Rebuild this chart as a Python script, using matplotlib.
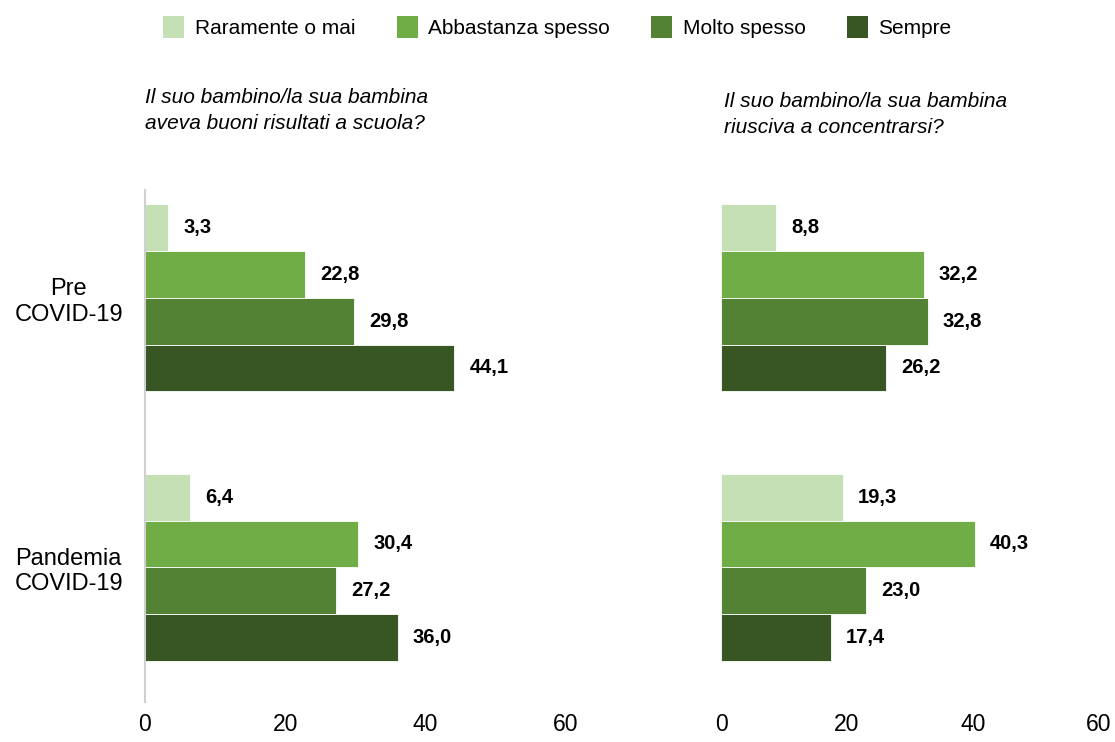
import matplotlib.pyplot as plt
from matplotlib.patches import Patch
import numpy as np

plt.rcParams['font.family'] = ['Liberation Sans', 'DejaVu Sans']

periods = ['Pre\nCOVID-19', 'Pandemia\nCOVID-19']
answers = ['Raramente o mai', 'Abbastanza spesso', 'Molto spesso', 'Sempre']
colors = ['#C5E0B4', '#70AD47', '#548235', '#375623']

# values per answer: [Pre, Pandemia]
scuola = [[3.3, 6.4], [22.8, 30.4], [29.8, 27.2], [44.1, 36.0]]
concentrarsi = [[8.8, 19.3], [32.2, 40.3], [32.8, 23.0], [26.2, 17.4]]

q_scuola = 'Il suo bambino/la sua bambina\naveva buoni risultati a scuola?'
q_conc = 'Il suo bambino/la sua bambina\nriusciva a concentrarsi?'

W, H = 1115, 742
fig = plt.figure(figsize=(W / 100, H / 100), dpi=100)

ax1 = fig.add_axes([145 / W, 40 / H, (566 - 145) / W, (702 - 190) / H])
ax2 = fig.add_axes([721 / W, 40 / H, (1099 - 721) / W, (702 - 190) / H])

bar_h = 0.1734
y = np.arange(len(periods))


def draw(ax, data, show_cats):
    for i, vals in enumerate(data):
        pos = y + (i - 1.5) * bar_h
        bars = ax.barh(pos, vals, height=bar_h, color=colors[i],
                       edgecolor='white', linewidth=0.6)
        for b, v in zip(bars, vals):
            ax.annotate(f'{v:.1f}'.replace('.', ','),
                        (b.get_width(), b.get_y() + b.get_height() / 2),
                        xytext=(15, 0), textcoords='offset pixels',
                        ha='left', va='center', fontsize=14.5, fontweight='bold')
    ax.set_xlim(0, 60)
    ax.set_ylim(1.5, -0.4)
    ax.set_xticks([0, 20, 40, 60])
    ax.tick_params(axis='x', length=0, pad=8, labelsize=16.5)
    for s in ['top', 'right', 'bottom']:
        ax.spines[s].set_visible(False)
    if show_cats:
        ax.spines['left'].set_color('#D0D0D0')
        ax.spines['left'].set_linewidth(1.5)
        ax.set_yticks(y)
        ax.set_yticklabels(periods, fontsize=17, ha='center')
        ax.tick_params(axis='y', length=0, pad=55)
    else:
        ax.spines['left'].set_visible(False)
        ax.set_yticks([])


draw(ax1, scuola, True)
draw(ax2, concentrarsi, False)

fig.text(145 / W, 1 - 88 / H, q_scuola, fontsize=15, style='italic',
         va='top', ha='left', linespacing=1.45)
fig.text(724 / W, 1 - 92 / H, q_conc, fontsize=15, style='italic',
         va='top', ha='left', linespacing=1.45)

handles = [Patch(facecolor=c, label=a) for c, a in zip(colors, answers)]
fig.legend(handles=handles, loc='center', bbox_to_anchor=(0.5, 1 - 27 / H),
           ncol=4, frameon=False, fontsize=15, handlelength=1.0,
           handleheight=1.2, handletextpad=0.5, columnspacing=2.0)

fig.savefig('out.png', dpi=100)
